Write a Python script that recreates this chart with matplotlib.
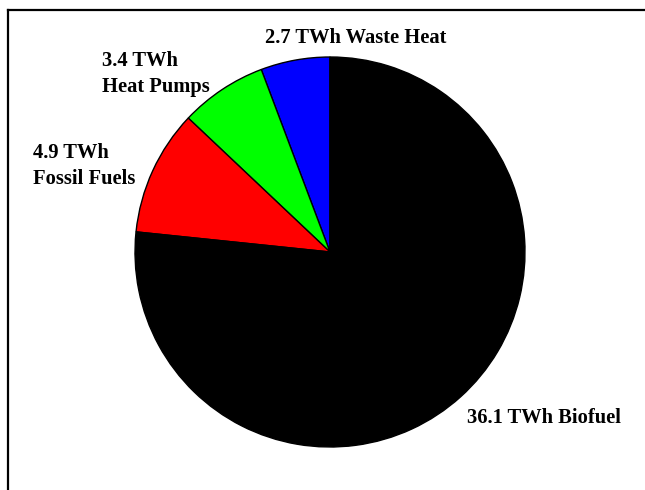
import matplotlib.pyplot as plt
from matplotlib.lines import Line2D

names = ["Waste Heat", "Heat Pumps", "Fossil Fuels", "Biofuel"]
twh = [2.7, 3.4, 4.9, 36.1]
colors = ["#0000ff", "#00ff00", "#ff0000", "#000000"]
labels = ["2.7 TWh Waste Heat", "3.4 TWh\nHeat Pumps", "4.9 TWh\nFossil Fuels", "36.1 TWh Biofuel"]

fig = plt.figure(figsize=(6.45, 4.9), dpi=100)
ax = fig.add_axes([0, 0, 1, 1])

# pie radius 1 = 195 px, centre at pixel (330, 252)
ax.pie(twh, colors=colors, startangle=90, counterclock=True,
       wedgeprops=dict(edgecolor="black", linewidth=1.0))
ax.set_aspect("auto")
ax.set_xlim(-330 / 195, 315 / 195)
ax.set_ylim(-238 / 195, 252 / 195)

def px(x, y):
    return (x - 330) / 195, (252 - y) / 195

label_pos = [px(265, 38), px(102, 74), px(33, 166), px(467, 418)]
for txt, (x, y) in zip(labels, label_pos):
    ax.text(x, y, txt, ha="left", va="center", family="Liberation Serif",
            fontweight="bold", fontsize=14.8, linespacing=1.38)

# partial frame (top and left edges)
fig.add_artist(Line2D([8 / 645, 1], [1 - 10 / 490, 1 - 10 / 490],
                      transform=fig.transFigure, color="black", linewidth=1.6))
fig.add_artist(Line2D([8 / 645, 8 / 645], [0, 1 - 10 / 490],
                      transform=fig.transFigure, color="black", linewidth=1.6))

fig.savefig("out.png", dpi=100)
